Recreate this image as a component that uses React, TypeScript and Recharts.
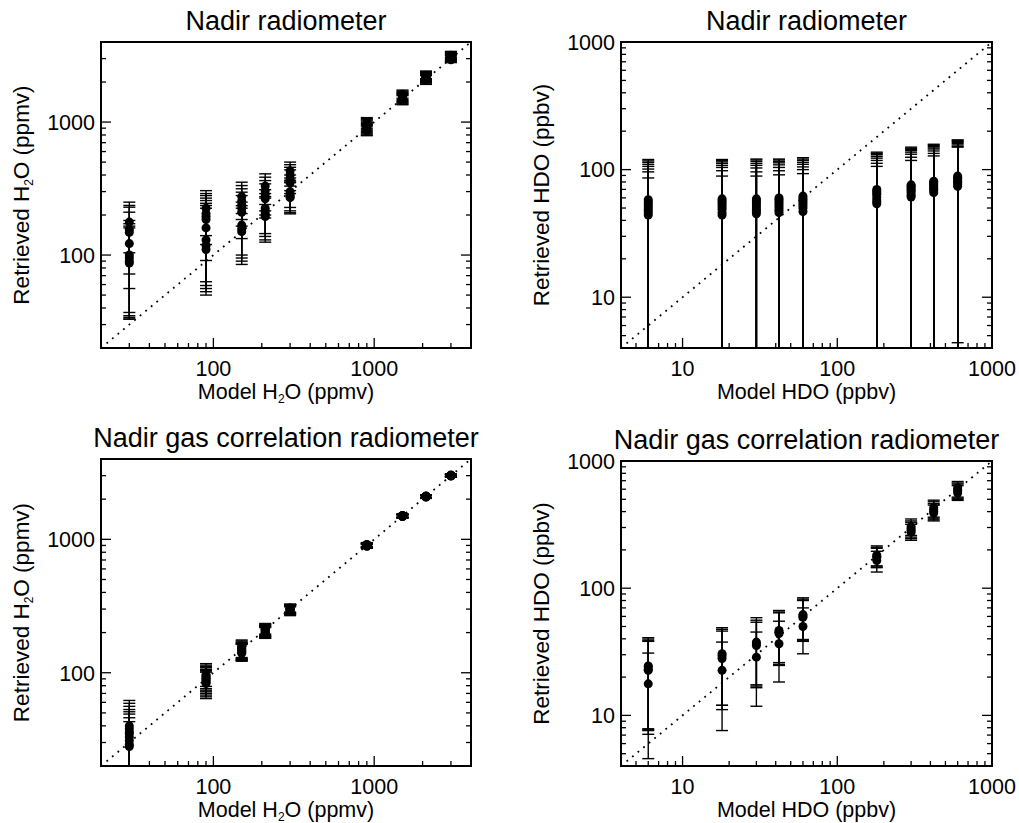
import React from 'react';
import { ScatterChart, Scatter, XAxis, YAxis, ErrorBar, ReferenceLine, Label } from 'recharts';

const FONT = '"Liberation Sans", Arial, Helvetica, sans-serif';

// model (true) values on the x axes
const h2oModel = [30, 90, 150, 210, 300, 900, 1500, 2100, 3000];
const hdoModel = [6, 18, 30, 42, 60, 180, 300, 420, 600];

// retrieved values: per model value, list of [retrieved, lower bound, upper bound]
// (lower bounds that run off the bottom of the plot are given as the axis minimum)
const radH2O: number[][][] = [
  [[177, 104, 250], [155, 72, 236], [148, 56, 229], [122, 37, 210], [100, 35, 182], [95, 33, 172], [90, 34, 165], [87, 33, 160]],
  [[225, 140, 305], [205, 120, 290], [195, 91, 280], [185, 63, 268], [160, 59, 257], [130, 56, 245], [118, 53, 236], [110, 50, 225]],
  [[275, 205, 353], [255, 185, 333], [240, 133, 315], [225, 165, 297], [210, 100, 280], [168, 95, 250], [158, 90, 235], [150, 85, 225]],
  [[330, 240, 408], [305, 215, 385], [285, 200, 363], [265, 190, 343], [225, 145, 310], [212, 138, 290], [202, 130, 275], [195, 125, 268]],
  [[430, 350, 500], [400, 330, 478], [372, 305, 457], [350, 290, 437], [300, 228, 400], [285, 215, 380], [276, 208, 365], [270, 204, 355]],
  [[990, 920, 1080], [965, 890, 1060], [945, 870, 1040], [925, 850, 1020], [905, 830, 995], [890, 815, 975], [875, 800, 960], [860, 790, 945]],
  [[1620, 1510, 1740], [1590, 1480, 1710], [1565, 1450, 1685], [1545, 1430, 1660], [1525, 1410, 1640], [1505, 1390, 1620], [1485, 1370, 1600], [1465, 1350, 1580]],
  [[2250, 2120, 2420], [2225, 2090, 2390], [2200, 2065, 2360], [2175, 2040, 2330], [2150, 2015, 2300], [2125, 1990, 2280], [2100, 1960, 2250], [2080, 1920, 2230]],
  [[3180, 3050, 3400], [3150, 3010, 3360], [3110, 2970, 3320], [3080, 2940, 3290], [3050, 2910, 3250], [3010, 2870, 3210], [2975, 2840, 3170], [2940, 2800, 3130]],
];

const radHDO: number[][][] = [
  [[58, 4, 120], [56, 4, 117], [54, 4, 114], [52, 4, 110], [50, 4, 106], [48, 4, 101], [46, 4, 96], [44, 4, 86]],
  [[59, 4, 120], [57, 4, 118], [55, 4, 115], [53, 4, 112], [51, 4, 108], [49, 4, 104], [46, 4, 98], [44, 4, 89]],
  [[59, 4, 121], [57, 4, 119], [55, 4, 116], [53, 4, 112], [51, 4, 108], [49, 4, 103], [47, 4, 96], [45, 4, 89]],
  [[60, 4, 121], [58, 4, 119], [56, 4, 116], [54, 4, 113], [52, 4, 109], [50, 4, 104], [48, 4, 98], [46, 4, 91]],
  [[62, 4, 124], [60, 4, 121], [58, 4, 118], [56, 4, 114], [54, 4, 110], [52, 4, 105], [50, 4, 100], [47, 4, 93]],
  [[70, 4, 137], [68, 4, 134], [66, 4, 131], [64, 4, 127], [61, 4, 123], [58, 4, 118], [56, 4, 112], [54, 4, 106]],
  [[76, 4, 150], [74, 4, 147], [72, 4, 144], [70, 4, 141], [68, 4, 137], [66, 4, 132], [63, 4, 125], [61, 4, 118]],
  [[81, 4, 158], [79, 4, 155], [77, 4, 152], [75, 4, 148], [73, 4, 145], [71, 4, 140], [69, 4, 134], [66, 4, 128]],
  [[89, 4, 171], [87, 4, 169], [85, 4, 166], [83, 4, 163], [81, 4, 160], [79, 4.4, 156], [77, 4, 152], [74, 4, 150]],
];

const gcrH2O: number[][][] = [
  [[40, 20, 62], [38, 20, 59], [36, 20, 56], [35, 20, 53], [33, 20, 51], [31, 20, 49], [29, 20, 46], [28, 20, 43]],
  [[97, 79, 117], [95, 76, 114], [93, 74, 111], [91, 72, 109], [89, 70, 106], [87, 68, 104], [85, 66, 103], [83, 64, 101]],
  [[158, 130, 176], [155, 128, 173], [152, 127, 170], [149, 126, 168], [147, 125, 166], [145, 124, 165], [142, 123, 164], [140, 122, 163]],
  [[218, 195, 234], [215, 192, 231], [212, 190, 228], [209, 188, 226], [206, 186, 224], [203, 184, 222], [200, 182, 220], [197, 181, 218]],
  [[306, 285, 327], [304, 282, 325], [302, 280, 322], [300, 278, 320], [298, 276, 318], [296, 273, 316], [294, 271, 314], [292, 268, 312]],
  [[915, 885, 945], [910, 880, 940], [905, 875, 935], [900, 870, 930], [897, 867, 927], [894, 864, 924], [890, 860, 920], [886, 856, 916]],
  [[1510, 1470, 1550], [1505, 1465, 1545], [1500, 1460, 1540], [1497, 1457, 1537], [1494, 1454, 1534], [1490, 1450, 1530], [1486, 1446, 1526], [1482, 1442, 1522]],
  [[2110, 2060, 2160], [2105, 2055, 2155], [2100, 2050, 2150], [2095, 2045, 2145], [2090, 2040, 2140], [2085, 2035, 2135], [2080, 2030, 2130], [2075, 2025, 2125]],
  [[3030, 2970, 3090], [3020, 2960, 3080], [3010, 2950, 3070], [3005, 2945, 3065], [3000, 2940, 3060], [2995, 2935, 3055], [2990, 2930, 3050], [2980, 2920, 3040]],
];

const gcrHDO: number[][][] = [
  [[24.5, 7.85, 40.8], [24, 7.7, 39.8], [23, 7.6, 38.6], [22.6, 7.1, 38.2], [17.7, 4.57, 30.9]],
  [[30.5, 12, 48.9], [29.5, 12, 47.5], [28, 11.1, 46], [22.6, 7.6, 37.7]],
  [[37.7, 17.4, 58.6], [36.5, 17, 56], [35.4, 16.5, 54], [28.7, 11.8, 45.2]],
  [[46.5, 26, 66.8], [45, 25.2, 65], [44, 24.7, 64], [36.6, 18.3, 55]],
  [[62, 39.5, 84], [60.5, 39, 82], [59, 38.2, 80], [50, 30.5, 70]],
  [[182, 150, 215], [178, 147, 210], [174, 145, 206], [165, 134, 195]],
  [[305, 260, 350], [295, 252, 338], [285, 245, 330], [275, 238, 318]],
  [[430, 362, 492], [415, 355, 478], [400, 345, 462], [390, 338, 450]],
  [[615, 520, 690], [595, 510, 672], [580, 500, 658], [560, 490, 640]],
];

// axis ticks (major decades + minor) and labelled ticks
const h2oTicks = [20, 30, 40, 50, 60, 70, 80, 90, 100, 200, 300, 400, 500, 600, 700, 800, 900, 1000, 2000, 3000, 4000];
const hdoTicks = [4, 5, 6, 7, 8, 9, 10, 20, 30, 40, 50, 60, 70, 80, 90, 100, 200, 300, 400, 500, 600, 700, 800, 900, 1000];
const h2oLabels = [100, 1000];
const hdoLabels = [10, 100, 1000];
const h2oDomain = [20, 4000];
const hdoDomain = [4, 1000];

type Pt = { x: number; y: number; err: number[] };

function buildPoints(model: number[], groups: number[][][]): Pt[] {
  const out: Pt[] = [];
  groups.forEach((g, i) => {
    g.forEach(([y, lo, hi]) => {
      out.push({ x: model[i], y, err: [y - lo, hi - y] });
    });
  });
  return out;
}

const isMajor = (v: number) => Math.abs(Math.log10(v) - Math.round(Math.log10(v))) < 1e-6;

function makeTick(side: 'bottom' | 'top' | 'left' | 'right', labels: number[]) {
  return (props: any) => {
    const { x, y, payload } = props;
    const v = payload.value;
    const len = isMajor(v) ? 10 : 5;
    const show = labels.includes(v);
    const ls = { stroke: '#000', strokeWidth: 1.3 };
    if (side === 'bottom') {
      return (
        <g>
          <line x1={x} x2={x} y1={y} y2={y - len} {...ls} />
          {show && (
            <text x={x} y={y + 27.5} textAnchor="middle" fontSize={21.5} fontFamily={FONT} fill="#000">
              {v}
            </text>
          )}
        </g>
      );
    }
    if (side === 'top') {
      return <line x1={x} x2={x} y1={y} y2={y + len} {...ls} />;
    }
    if (side === 'left') {
      return (
        <g>
          <line x1={x} x2={x + len} y1={y} y2={y} {...ls} />
          {show && (
            <text x={x - 6} y={y + 7.8} textAnchor="end" fontSize={21.5} fontFamily={FONT} fill="#000">
              {v}
            </text>
          )}
        </g>
      );
    }
    return <line x1={x} x2={x - len} y1={y} y2={y} {...ls} />;
  };
}

const axisLineStyle = { stroke: '#000', strokeWidth: 2, strokeLinecap: 'square' };

function Species({ h2o, unit }: { h2o: boolean; unit: string }) {
  return h2o ? (
    <>
      H<tspan fontSize={12} dy={4}>2</tspan>
      <tspan dy={-4}>{'O (' + unit + ')'}</tspan>
    </>
  ) : (
    <>{'HDO (' + unit + ')'}</>
  );
}

type PanelProps = {
  left: number;
  top: number;
  width: number;
  height: number;
  plot: { top: number; right: number; bottom: number; left: number };
  model: number[];
  groups: number[][][];
  ticks: number[];
  labels: number[];
  domain: number[];
  title: string;
  h2o: boolean;
  unit: string;
};

function Panel(p: PanelProps) {
  const data = buildPoints(p.model, p.groups);
  const [d0, d1] = p.domain;
  // each of the four axes takes 1px, so the margins are one pixel smaller
  const margin = { top: p.plot.top - 1, right: p.plot.right - 1, bottom: p.plot.bottom - 1, left: p.plot.left - 1 };
  return (
    <div style={{ position: 'absolute', left: p.left, top: p.top }}>
      <ScatterChart width={p.width} height={p.height} margin={margin}>
        <XAxis
          xAxisId="b"
          dataKey="x"
          type="number"
          scale="log"
          domain={p.domain}
          allowDataOverflow
          ticks={p.ticks}
          interval={0}
          tickSize={0}
          tickMargin={0}
          tickLine={false}
          tick={makeTick('bottom', p.labels)}
          axisLine={axisLineStyle}
          height={1}
          orientation="bottom"
        >
          <Label
            content={(lp: any) => {
              const vb = lp.viewBox;
              return (
                <text x={vb.x + vb.width / 2} y={vb.y + 51} textAnchor="middle" fontSize={21.5} fontFamily={FONT} fill="#000">
                  Model <Species h2o={p.h2o} unit={p.unit} />
                </text>
              );
            }}
          />
        </XAxis>
        <XAxis
          xAxisId="t"
          type="number"
          scale="log"
          domain={p.domain}
          allowDataOverflow
          ticks={p.ticks}
          interval={0}
          tickSize={0}
          tickMargin={0}
          tickLine={false}
          tick={makeTick('top', p.labels)}
          axisLine={axisLineStyle}
          height={1}
          orientation="top"
        >
          <Label
            content={(lp: any) => {
              const vb = lp.viewBox;
              return (
                <text x={vb.x + vb.width / 2} y={vb.y + vb.height - 12.5} textAnchor="middle" fontSize={27} fontFamily={FONT} fill="#000">
                  {p.title}
                </text>
              );
            }}
          />
        </XAxis>
        <YAxis
          yAxisId="l"
          dataKey="y"
          type="number"
          scale="log"
          domain={p.domain}
          allowDataOverflow
          ticks={p.ticks}
          interval={0}
          tickSize={0}
          tickMargin={0}
          tickLine={false}
          tick={makeTick('left', p.labels)}
          axisLine={axisLineStyle}
          width={1}
          orientation="left"
        >
          <Label
            content={(lp: any) => {
              const vb = lp.viewBox;
              const cx = vb.x + vb.width - 72;
              const cy = vb.y + vb.height / 2;
              return (
                <text x={cx} y={cy} transform={`rotate(-90 ${cx} ${cy})`} textAnchor="middle" fontSize={22.5} fontFamily={FONT} fill="#000">
                  Retrieved <Species h2o={p.h2o} unit={p.unit} />
                </text>
              );
            }}
          />
        </YAxis>
        <YAxis
          yAxisId="r"
          type="number"
          scale="log"
          domain={p.domain}
          allowDataOverflow
          ticks={p.ticks}
          interval={0}
          tickSize={0}
          tickMargin={0}
          tickLine={false}
          tick={makeTick('right', p.labels)}
          axisLine={axisLineStyle}
          width={1}
          orientation="right"
        />
        <ReferenceLine
          xAxisId="b"
          yAxisId="l"
          segment={[{ x: d0, y: d0 }, { x: d1, y: d1 }]}
          stroke="#000"
          strokeWidth={1.8}
          strokeDasharray="1.8 5.4"
          ifOverflow="hidden"
        />
        <Scatter
          xAxisId="b"
          yAxisId="l"
          data={data}
          isAnimationActive={false}
          fill="#000"
          shape={(sp: any) => <circle cx={sp.cx} cy={sp.cy} r={4.5} fill="#000" />}
        >
          <ErrorBar dataKey="err" direction="y" width={6} stroke="#000" strokeWidth={1.4} isAnimationActive={false} />
        </Scatter>
      </ScatterChart>
    </div>
  );
}

export default function App() {
  return (
    <div style={{ position: 'absolute', left: 0, top: 0, width: 1019, height: 823, background: '#fff', overflow: 'hidden' }}>
      <Panel
        left={0}
        top={0}
        width={510}
        height={410}
        plot={{ top: 42, right: 39, bottom: 62, left: 101 }}
        model={h2oModel}
        groups={radH2O}
        ticks={h2oTicks}
        labels={h2oLabels}
        domain={h2oDomain}
        title="Nadir radiometer"
        h2o={true}
        unit="ppmv"
      />
      <Panel
        left={509}
        top={0}
        width={510}
        height={410}
        plot={{ top: 42, right: 27, bottom: 62, left: 112 }}
        model={hdoModel}
        groups={radHDO}
        ticks={hdoTicks}
        labels={hdoLabels}
        domain={hdoDomain}
        title="Nadir radiometer"
        h2o={false}
        unit="ppbv"
      />
      <Panel
        left={0}
        top={410}
        width={510}
        height={413}
        plot={{ top: 49, right: 39, bottom: 57, left: 101 }}
        model={h2oModel}
        groups={gcrH2O}
        ticks={h2oTicks}
        labels={h2oLabels}
        domain={h2oDomain}
        title="Nadir gas correlation radiometer"
        h2o={true}
        unit="ppmv"
      />
      <Panel
        left={509}
        top={410}
        width={510}
        height={413}
        plot={{ top: 51, right: 27, bottom: 57, left: 112 }}
        model={hdoModel}
        groups={gcrHDO}
        ticks={hdoTicks}
        labels={hdoLabels}
        domain={hdoDomain}
        title="Nadir gas correlation radiometer"
        h2o={false}
        unit="ppbv"
      />
    </div>
  );
}
